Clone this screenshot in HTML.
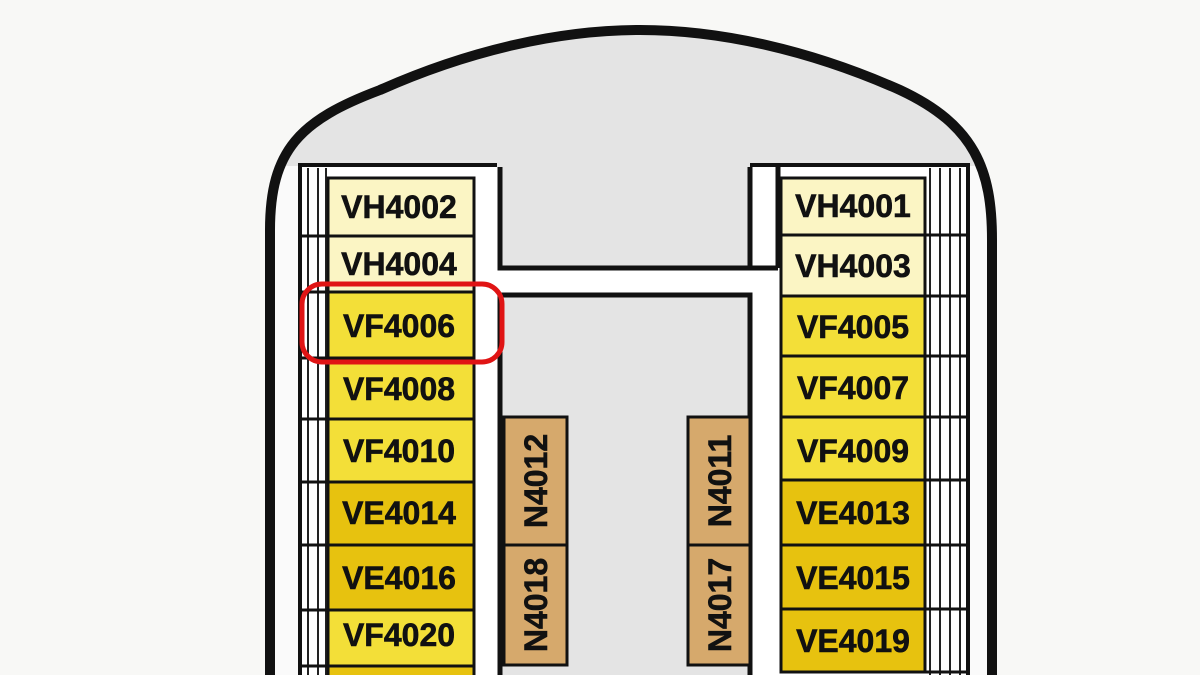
<!DOCTYPE html>
<html><head><style>
body{margin:0;width:1200px;height:675px;overflow:hidden;background:#f8f8f6;font-family:"Liberation Sans",sans-serif}
</style></head><body>
<svg width="1200" height="675" xmlns="http://www.w3.org/2000/svg" style="position:absolute;left:0;top:0">
<path d="M270,680 L270,230 C270,150 300,120 380,90 C470,50 560,30 640,30 C720,30 810,50 900,90 C975,125 992,170 992,240 L992,680 Z" fill="#e4e4e4" stroke="none"/>
<rect x="274" y="166" width="30" height="509" fill="#fafafa"/>
<rect x="966" y="166" width="22" height="509" fill="#fafafa"/>
<path d="M270,680 L270,230 C270,150 300,120 380,90 C470,50 560,30 640,30 C720,30 810,50 900,90 C975,125 992,170 992,240 L992,680" fill="none" stroke="#111" stroke-width="10"/>
<path d="M300,675 L300,165 L497,165 M750,165 L968,165 L968,675" fill="none" stroke="#111" stroke-width="4"/>
<rect x="302" y="167" width="195" height="508" fill="#fff"/>
<rect x="752" y="167" width="214" height="508" fill="#fff"/>
<g stroke="#222" stroke-width="2">
<line x1="308" y1="168" x2="308" y2="675"/><line x1="318" y1="168" x2="318" y2="675"/><line x1="326" y1="168" x2="326" y2="675"/>
<line x1="930" y1="168" x2="930" y2="675"/><line x1="940" y1="168" x2="940" y2="675"/><line x1="950" y1="168" x2="950" y2="675"/><line x1="960" y1="168" x2="960" y2="675"/>
</g>
<g stroke="#111" stroke-width="3">
<line x1="300" y1="236" x2="330" y2="236"/><line x1="300" y1="292" x2="330" y2="292"/><line x1="300" y1="358" x2="330" y2="358"/><line x1="300" y1="419" x2="330" y2="419"/><line x1="300" y1="482" x2="330" y2="482"/><line x1="300" y1="545" x2="330" y2="545"/><line x1="300" y1="610" x2="330" y2="610"/><line x1="300" y1="666" x2="330" y2="666"/>
<line x1="925" y1="235" x2="968" y2="235"/><line x1="925" y1="296" x2="968" y2="296"/><line x1="925" y1="356" x2="968" y2="356"/><line x1="925" y1="417" x2="968" y2="417"/><line x1="925" y1="480" x2="968" y2="480"/><line x1="925" y1="545" x2="968" y2="545"/><line x1="925" y1="609" x2="968" y2="609"/><line x1="925" y1="672" x2="968" y2="672"/>
</g>
<rect x="497" y="165" width="253" height="103" fill="#e4e4e4"/>
<rect x="497" y="295" width="253" height="380" fill="#e4e4e4"/>
<rect x="497" y="268" width="283" height="27" fill="#fff"/>
<rect x="475" y="167" width="25" height="508" fill="#fff"/>
<rect x="750" y="167" width="30" height="508" fill="#fff"/>
<path d="M500,167 L500,268 L778,268 M500,675 L500,295 L750,295 L750,675 M750,167 L750,268" fill="none" stroke="#111" stroke-width="5"/>
<path d="M778,167 L778,268" stroke="#111" stroke-width="5"/>
<g stroke="#111" stroke-width="3">
<rect x="328" y="178" width="146" height="58" fill="#fbf5c4"/>
<rect x="328" y="236" width="146" height="56" fill="#fbf5c4"/>
<rect x="328" y="292" width="146" height="66" fill="#f3df38"/>
<rect x="328" y="358" width="146" height="61" fill="#f3df38"/>
<rect x="328" y="419" width="146" height="63" fill="#f3df38"/>
<rect x="328" y="482" width="146" height="63" fill="#e7c20f"/>
<rect x="328" y="545" width="146" height="65" fill="#e7c20f"/>
<rect x="328" y="610" width="146" height="56" fill="#f3df38"/>
<rect x="328" y="666" width="146" height="20" fill="#e7c20f"/>
<rect x="781" y="178" width="144" height="57" fill="#fbf5c4"/>
<rect x="781" y="235" width="144" height="61" fill="#fbf5c4"/>
<rect x="781" y="296" width="144" height="60" fill="#f3df38"/>
<rect x="781" y="356" width="144" height="61" fill="#f3df38"/>
<rect x="781" y="417" width="144" height="63" fill="#f3df38"/>
<rect x="781" y="480" width="144" height="65" fill="#e7c20f"/>
<rect x="781" y="545" width="144" height="64" fill="#e7c20f"/>
<rect x="781" y="609" width="144" height="63" fill="#e7c20f"/>
<rect x="504" y="417" width="63" height="128" fill="#d6a96c"/>
<rect x="504" y="545" width="63" height="120" fill="#d6a96c"/>
<rect x="688" y="417" width="62" height="128" fill="#d6a96c"/>
<rect x="688" y="545" width="62" height="120" fill="#d6a96c"/>
</g>
<g font-family="Liberation Sans,sans-serif" font-weight="bold" font-size="32" fill="#111" text-anchor="middle" stroke="#111" stroke-width="0.6">
<text x="399" y="218">VH4002</text><text x="399" y="275">VH4004</text><text x="399" y="337">VF4006</text><text x="399" y="400">VF4008</text><text x="399" y="462">VF4010</text><text x="399" y="524">VE4014</text><text x="399" y="589">VE4016</text><text x="399" y="646">VF4020</text>
<text x="853" y="217">VH4001</text><text x="853" y="277">VH4003</text><text x="853" y="338">VF4005</text><text x="853" y="399">VF4007</text><text x="853" y="462">VF4009</text><text x="853" y="524">VE4013</text><text x="853" y="589">VE4015</text><text x="853" y="652">VE4019</text>
<text transform="translate(547,481) rotate(-90)">N4012</text>
<text transform="translate(547,605) rotate(-90)">N4018</text>
<text transform="translate(731,481) rotate(-90)">N4011</text>
<text transform="translate(731,605) rotate(-90)">N4017</text>
</g>
<rect x="302" y="284" width="200" height="78" rx="20" fill="none" stroke="#e01414" stroke-width="5"/>
</svg>
</body></html>
